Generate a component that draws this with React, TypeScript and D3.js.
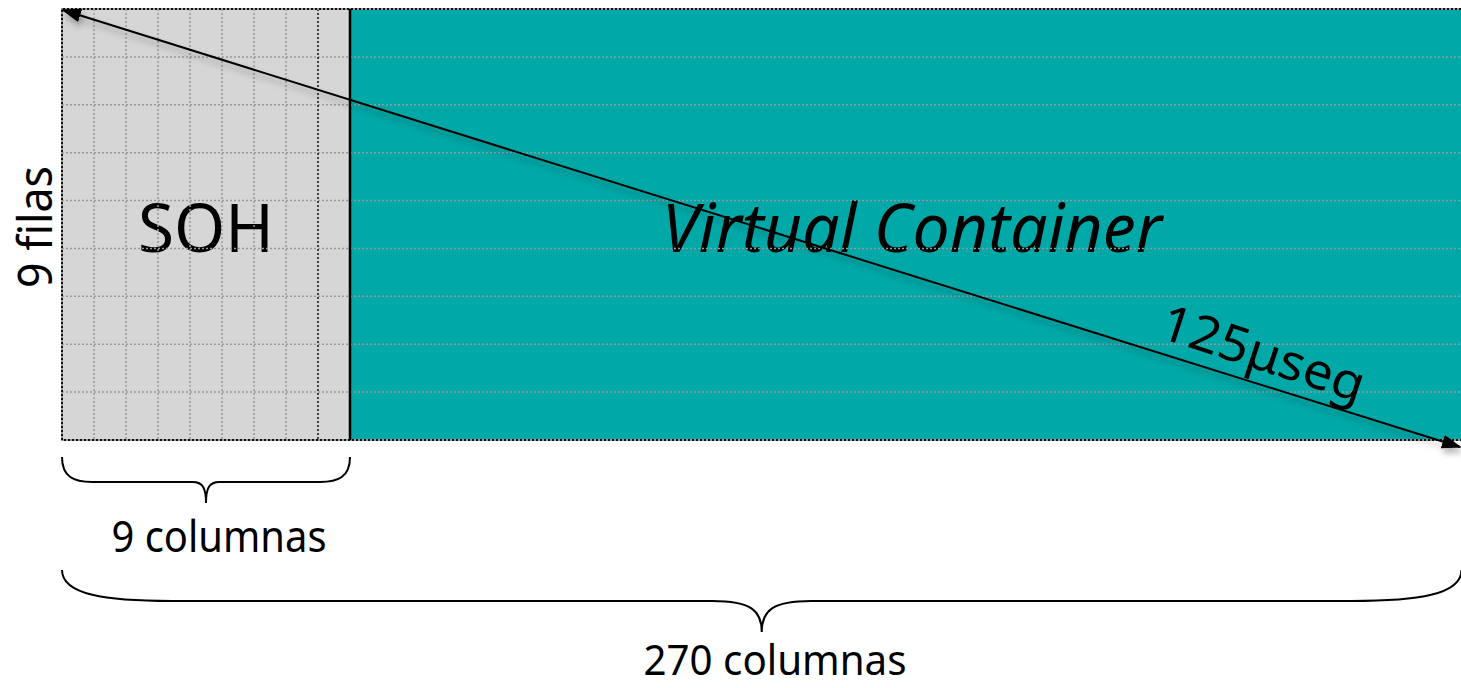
import React from 'react';
import * as d3 from 'd3';

// frame layout: 9 rows, SOH = 9 columns, full frame = 270 columns
const ROWS = 9;
const SOH_COLS = 9;
const rowLines = [1, 2, 3, 4, 5, 6, 7, 8];
const sohColLines = [1, 2, 3, 4, 5, 6, 7];
const lastSohLine = [8];
const regionLabels = ['SOH', 'Virtual Container'];
const sideLabel = '9 filas';
const braceLabels = ['9 columnas', '270 columnas'];
const timeLabel = '125\u03bcseg';

const W = 1461;
const H = 688;
const FONT = "'Noto Sans', 'DejaVu Sans', sans-serif";

const y = d3.scaleLinear().domain([0, ROWS]).range([9, 440]);
const xSoh = d3.scaleLinear().domain([0, SOH_COLS]).range([62, 350]);
const frameRight = W + 4;

function brace(x0: number, x1: number, yTop: number, yMid: number, yTip: number, r: number) {
  const m = (x0 + x1) / 2;
  const p = d3.path();
  p.moveTo(x0, yTop);
  p.bezierCurveTo(x0, yTop + (yMid - yTop) * 0.8, x0 + r * 0.4, yMid, x0 + r, yMid);
  p.lineTo(m - r * 0.45, yMid);
  p.bezierCurveTo(m - r * 0.1, yMid, m, yMid + (yTip - yMid) * 0.3, m, yTip);
  p.bezierCurveTo(m, yMid + (yTip - yMid) * 0.3, m + r * 0.1, yMid, m + r * 0.45, yMid);
  p.lineTo(x1 - r, yMid);
  p.bezierCurveTo(x1 - r * 0.4, yMid, x1, yTop + (yMid - yTop) * 0.8, x1, yTop);
  return p.toString();
}

export default function App() {
  const top = y(0);
  const bottom = y(ROWS);
  const left = xSoh(0);
  const sohRight = xSoh(SOH_COLS);
  return (
    <svg width={W} height={H} style={{ position: 'absolute', left: 0, top: 0, background: '#fff' }}>
      <defs>
        <marker id="ah" viewBox="0 0 10 10" refX="9" refY="5" markerWidth="10" markerHeight="10"
          orient="auto-start-reverse" markerUnits="strokeWidth">
          <path d="M0,1.5 L10,5 L0,8.5 Z" fill="#000" />
        </marker>
        <filter id="sh" x="-5%" y="-20%" width="110%" height="160%">
          <feDropShadow dx="2" dy="5" stdDeviation="3" floodColor="#000" floodOpacity="0.3" />
        </filter>
      </defs>

      <rect x={left} y={top} width={sohRight - left} height={bottom - top} fill="#d6d6d6" />
      <rect x={sohRight} y={top} width={frameRight - sohRight} height={bottom - top} fill="#00a8a8" />

      <text x={(left + sohRight) / 2} y={252} textAnchor="middle" fontFamily={FONT} fontSize={68}
        textLength={136} lengthAdjust="spacingAndGlyphs">{regionLabels[0]}</text>
      <text x={662} y={252} fontFamily={FONT} fontSize={68} fontStyle="italic"
        textLength={500} lengthAdjust="spacingAndGlyphs">{regionLabels[1]}</text>

      {rowLines.map(r => (
        <line key={'r' + r} x1={left} x2={frameRight} y1={y(r)} y2={y(r)}
          stroke="#999" strokeWidth={1.5} strokeDasharray="2 2" />
      ))}
      {sohColLines.map(c => (
        <line key={'c' + c} x1={xSoh(c)} x2={xSoh(c)} y1={top} y2={bottom}
          stroke="#999" strokeWidth={1.5} strokeDasharray="2 2" />
      ))}
      {lastSohLine.map(c => (
        <line key={'l' + c} x1={xSoh(c)} x2={xSoh(c)} y1={top} y2={bottom}
          stroke="#111" strokeWidth={1.5} strokeDasharray="2 2" />
      ))}

      {/* frame border */}
      <path d={`M${frameRight},${top} H${left} V${bottom} H${frameRight}`} fill="none" stroke="#999" strokeWidth={2} />
      <path d={`M${frameRight},${top} H${left} V${bottom} H${frameRight}`} fill="none" stroke="#111" strokeWidth={2} strokeDasharray="2 2" />
      <line x1={sohRight} x2={sohRight} y1={top} y2={bottom} stroke="#000" strokeWidth={2.5} />

      {/* diagonal 125 us arrow */}
      <line x1={left + 1} y1={top + 1} x2={W - 1} y2={bottom + 7} stroke="#000" strokeWidth={2}
        markerStart="url(#ah)" markerEnd="url(#ah)" filter="url(#sh)" />
      <text transform={`translate(1157,337) rotate(18)`} fontFamily={FONT} fontSize={50}
        textLength={212} lengthAdjust="spacingAndGlyphs">{timeLabel}</text>

      <text transform={`translate(52,227) rotate(-90)`} textAnchor="middle" fontFamily={FONT} fontSize={48}
        textLength={122} lengthAdjust="spacingAndGlyphs">{sideLabel}</text>

      <path d={brace(left, sohRight, 457, 482, 503, 30)} fill="none" stroke="#000" strokeWidth={2} />
      <text x={219} y={552} textAnchor="middle" fontFamily={FONT} fontSize={44}
        textLength={215} lengthAdjust="spacingAndGlyphs">{braceLabels[0]}</text>

      <path d={brace(left, W + 0.5, 570, 601, 632, 110)} fill="none" stroke="#000" strokeWidth={2} />
      <text x={775} y={675} textAnchor="middle" fontFamily={FONT} fontSize={42}
        textLength={263} lengthAdjust="spacingAndGlyphs">{braceLabels[1]}</text>
    </svg>
  );
}
